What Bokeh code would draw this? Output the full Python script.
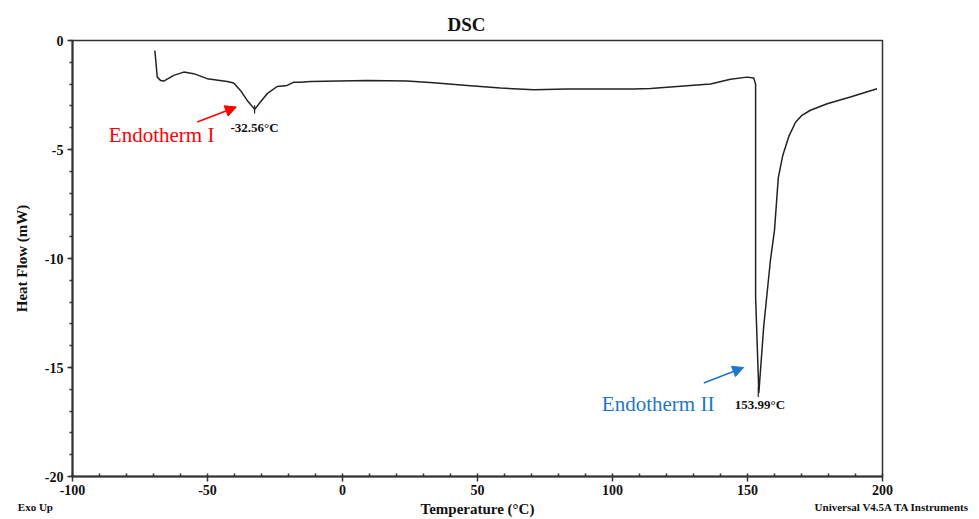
from bokeh.plotting import figure
from bokeh.models import (Label, Arrow, NormalHead, SingleIntervalTicker, Range1d,
                          PrintfTickFormatter, LinearAxis, FixedTicker)
from bokeh.embed import file_html
from bokeh.resources import INLINE

# ---- data ----
temperature = [-69.5, -68.6, -67.4, -66.2, -62.5, -58.8, -55.1, -50.1, -42.7, -40.3,
               -37.8, -35.3, -32.5, -30.4, -27.9, -24.2, -20.5, -18.0, -15.6, -11.9,
               9.1, 23.9, 33.7, 46.2, 58.5, 70.9, 83.2, 107.9, 114.1, 126.4,
               136.3, 143.7, 149.9, 152.3, 153.0, 153.0, 154.2, 156.0, 158.5, 160.0,
               161.4, 163.0, 165.3, 167.8, 170.0, 173.3, 179.5, 188.1, 198.0]
heat_flow = [-0.46, -1.68, -1.83, -1.86, -1.60, -1.45, -1.52, -1.75, -1.88, -1.95,
             -2.29, -2.75, -3.16, -2.82, -2.44, -2.11, -2.06, -1.91, -1.91, -1.88,
             -1.83, -1.86, -1.94, -2.06, -2.18, -2.26, -2.23, -2.23, -2.20, -2.09,
             -2.00, -1.78, -1.68, -1.72, -2.00, -11.75, -16.17, -13.12, -10.07, -8.70,
             -6.30, -5.30, -4.40, -3.75, -3.45, -3.20, -2.90, -2.59, -2.21]

peak_temps = [-32.56, 153.99]
peak_labels = ["-32.56\u00b0C", "153.99\u00b0C"]
peak_top = [-2.97, -15.9]
peak_bottom = [-3.35, -16.35]

x_ticks_major = 50
y_ticks_major = 5

# footer texts, hung on the two ends of the temperature axis
footer_left = "Exo Up"
footer_right = "Universal V4.5A TA Instruments"
footer_ticks = [-100, 200]

SERIF = "Liberation Serif"
AX = "#333333"
NB = "\u00a0"

p = figure(width=975, height=519, output_backend="svg", toolbar_location=None,
           x_range=Range1d(-100, 200), y_range=Range1d(-20, 0),
           min_border_left=72, min_border_right=93, min_border_top=40, min_border_bottom=42,
           title="DSC")
p.title.align = "left"
p.title.offset = 375
p.title.text_font = SERIF
p.title.text_font_style = "bold"
p.title.text_font_size = "19px"
p.title.text_color = "#111111"
p.title.standoff = 11

p.background_fill_color = "white"
p.border_fill_color = "white"
p.outline_line_color = AX
p.outline_line_width = 1.5
p.grid.visible = False

p.line(temperature, heat_flow, line_color="#222222", line_width=1.5)
p.segment(x0=peak_temps, y0=peak_top, x1=peak_temps, y1=peak_bottom, line_color="#222222", line_width=1.2)

# axes
p.xaxis.ticker = SingleIntervalTicker(interval=x_ticks_major, num_minor_ticks=5)
p.yaxis.ticker = SingleIntervalTicker(interval=y_ticks_major, num_minor_ticks=5)
for ax in (p.xaxis[0], p.yaxis[0]):
    ax.formatter = PrintfTickFormatter(format="%d")
    ax.axis_line_color = AX
    ax.axis_line_width = 2
    ax.major_tick_line_color = AX
    ax.minor_tick_line_color = AX
    ax.major_tick_line_width = 1.5
    ax.minor_tick_line_width = 1.5
    ax.major_label_text_font = SERIF
    ax.major_label_text_font_style = "bold"
    ax.major_label_text_font_size = "14px"
    ax.major_label_text_color = "#111111"
    ax.major_tick_out = 5
    ax.major_tick_in = 0
    ax.major_label_standoff = 4
    ax.axis_label_text_font = SERIF
    ax.axis_label_text_font_style = "bold"
    ax.axis_label_text_font_size = "15px"
    ax.axis_label_text_color = "#111111"

p.xaxis.minor_tick_in = 3
p.xaxis.minor_tick_out = 0
p.yaxis.minor_tick_in = 0
p.yaxis.minor_tick_out = 3
p.xaxis.major_label_standoff = 3

p.yaxis.axis_label = "Heat Flow (mW)"
p.yaxis.axis_label_standoff = 12

# helper axis under the x axis: footer texts + x axis title
foot = LinearAxis(ticker=FixedTicker(ticks=footer_ticks),
                  major_label_overrides={footer_ticks[0]: footer_left + NB * 27,
                                         footer_ticks[1]: NB * 7 + footer_right},
                  axis_line_color=None, major_tick_line_color=None, minor_tick_line_color=None,
                  major_tick_in=0, major_tick_out=0, minor_tick_in=0, minor_tick_out=0,
                  major_label_standoff=3,
                  major_label_text_font=SERIF, major_label_text_font_style="bold",
                  major_label_text_font_size="11px", major_label_text_color="#111111",
                  axis_label="Temperature (\u00b0C)", axis_label_standoff=-15,
                  axis_label_text_font=SERIF, axis_label_text_font_style="bold",
                  axis_label_text_font_size="15px", axis_label_text_color="#111111")
p.add_layout(foot, "below")

def lab(x, y, text, size, color="#111111", bold=True):
    p.add_layout(Label(x=x, y=y, text=text, text_font=SERIF, text_font_size=size,
                       text_font_style="bold" if bold else "normal", text_color=color,
                       text_align="center", text_baseline="middle"))

# peak labels
lab(-32.6, -3.98, peak_labels[0], "13px")
lab(154.6, -16.72, peak_labels[1], "13px")

# annotations
lab(-67.0, -4.35, "Endotherm I", "21px", color="#FF0000", bold=False)
lab(116.9, -16.66, "Endotherm II", "21px", color="#1E78C8", bold=False)

p.add_layout(Arrow(end=NormalHead(size=11, fill_color="#FF0000", line_color="#FF0000"),
                   x_start=-53.8, y_start=-3.74, x_end=-39.3, y_end=-3.05,
                   line_color="#FF0000", line_width=1.5))
p.add_layout(Arrow(end=NormalHead(size=11, fill_color="#1E78C8", line_color="#1E78C8"),
                   x_start=133.8, y_start=-15.71, x_end=148.6, y_end=-15.0,
                   line_color="#1E78C8", line_width=1.5))

open("out.html", "w").write(file_html(p, INLINE))
